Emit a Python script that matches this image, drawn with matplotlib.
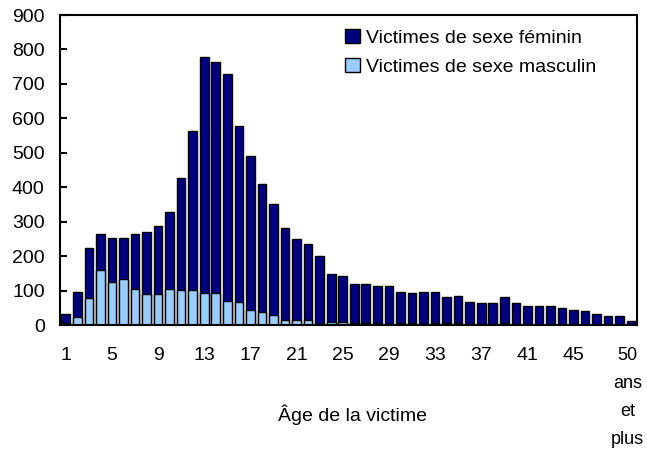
import numpy as np
import matplotlib.pyplot as plt
from matplotlib.transforms import ScaledTranslation

plt.rcParams['font.family'] = ['Liberation Sans', 'DejaVu Sans']

# ages 1..50 (50 = 50 ans et plus)
ages = np.arange(1, 51)
female = [32, 97, 224, 265, 253, 253, 265, 271, 288, 328,
          426, 564, 779, 763, 728, 577, 490, 409, 351, 282,
          249, 236, 200, 148, 143, 120, 120, 114, 114, 97,
          92, 97, 97, 80, 85, 68, 63, 63, 80, 63,
          56, 56, 56, 50, 44, 40, 32, 26, 26, 12]
male = [7, 24, 77, 159, 124, 134, 105, 89, 89, 105,
        101, 101, 94, 94, 71, 66, 44, 37, 29, 15,
        15, 15, 2, 8, 8, 6, 6, 6, 2, 6,
        6, 2, 6, 6, 6, 2, 2, 2, 5, 2,
        1, 1, 1, 1, 1, 1, 1, 1, 1, 1]
tick_pos = [1, 5, 9, 13, 17, 21, 25, 29, 33, 37, 41, 45, 50]
tick_labels = ['1', '5', '9', '13', '17', '21', '25', '29', '33', '37', '41', '45',
               '50\nans\net\nplus']

fs = 14
fig = plt.figure(figsize=(6.47, 4.5), dpi=100)
ax = fig.add_axes([60/647, 1-325/450, 577/647, 310/450])

ax.bar(ages, female, width=0.75, color='#000080', edgecolor='black', linewidth=1,
       label='Victimes de sexe féminin')
ax.bar(ages, male, width=0.75, color='#99CCFF', edgecolor='black', linewidth=1,
       label='Victimes de sexe masculin')

ax.set_xlim(0.5, 50.5)
ax.set_ylim(0, 900)
ax.set_yticks(range(0, 901, 100))
ax.set_xticks(tick_pos)
ax.set_xticklabels(tick_labels, linespacing=1.5, va='top')
ax.tick_params(axis='y', direction='in', length=5, width=1.5, labelsize=fs, pad=11)
ax.tick_params(axis='x', length=0, labelsize=fs, pad=16)
for s in ax.spines.values():
    s.set_linewidth(1.5)

# keep the last label inside the picture
last = ax.get_xticklabels()[-1]
last.set_fontsize(13)
last.set_linespacing(1.85)
last.set_transform(last.get_transform() + ScaledTranslation(-0.035, 0, fig.dpi_scale_trans))

fig.text(352/647, 1-415/450, 'Âge de la victime', ha='center', va='center', fontsize=fs)

ax.legend(loc='upper left', bbox_to_anchor=(0.494, 0.955), frameon=False, fontsize=fs,
          borderpad=0, borderaxespad=0,
          handlelength=0.75, handleheight=0.7, handletextpad=0.35, labelspacing=0.6)

fig.savefig('out.png', dpi=100)
